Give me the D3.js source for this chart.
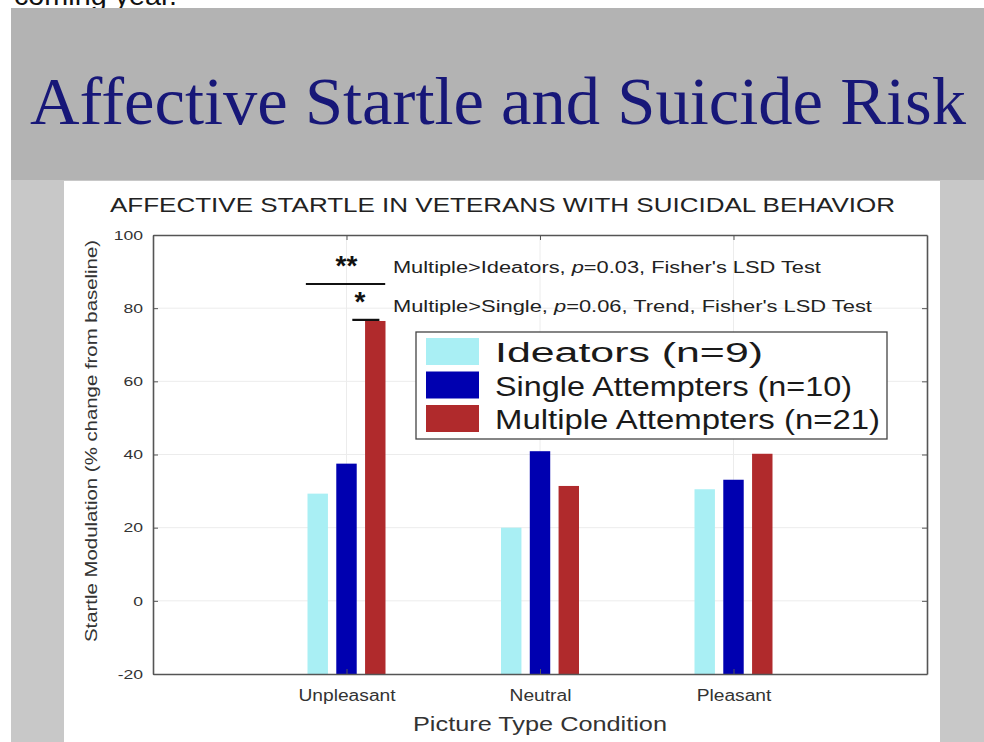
<!DOCTYPE html>
<html>
<head>
<meta charset="utf-8">
<script src="https://cdn.jsdelivr.net/npm/d3@7"></script>
<style>
  html, body { margin: 0; padding: 0; background: #fff; }
  svg { display: block; }
  text { font-family: "Liberation Sans", Arial, sans-serif; }
</style>
</head>
<body>
<svg id="chart" width="984" height="742"></svg>
<script>
// values
var categories = ['Unpleasant', 'Neutral', 'Pleasant'];
var seriesNames = ['Ideators (n=9)', 'Single Attempters (n=10)', 'Multiple Attempters (n=21)'];
var ideators = [29.3, 20.0, 30.5];
var singleAttempters = [37.5, 40.9, 33.1];
var multipleAttempters = [76.5, 31.4, 40.2];
var yTicks = [-20, 0, 20, 40, 60, 80, 100];
var seriesColors = ['#a9eff4', '#0000b0', '#b02a2c'];

// significance markers (x in category units, y in % change)
var sigLines = [
	{ x1: 0.79, x2: 1.20, y: 86.6 },
	{ x1: 1.03, x2: 1.17, y: 76.8 }
];
var sigStars = [
	{ x: 1.0, y: 89.0, text: '**' },
	{ x: 1.07, y: 79.2, text: '*' }
];
var sigNotes = [
	{ x: 1.24, y: 89.7, pre: 'Multiple>Ideators, ', post: '=0.03, Fisher\'s LSD Test', width: 428 },
	{ x: 1.24, y: 79.0, pre: 'Multiple>Single, ', post: '=0.06, Trend, Fisher\'s LSD Test', width: 479 }
];

var svg = d3.select('#chart');

function fit(sel, width) {
	sel.attr('textLength', width).attr('lengthAdjust', 'spacingAndGlyphs');
}
function stretch(sel, factor) {
	sel.each(function() {
		var w = this.getComputedTextLength();
		d3.select(this).attr('textLength', w * factor).attr('lengthAdjust', 'spacingAndGlyphs');
	});
}

// slide background (the line above is cut off in the source too)
svg.append('text')
	.attr('x', 14).attr('y', 5)
	.attr('font-size', 28)
	.attr('fill', '#111')
	.text('coming year.')
	.call(fit, 163);

svg.append('rect').attr('x', 11).attr('y', 180).attr('width', 973).attr('height', 562).attr('fill', '#c8c8c8');
svg.append('rect').attr('x', 11).attr('y', 8).attr('width', 973).attr('height', 172).attr('fill', '#b3b3b3');
svg.append('rect').attr('x', 64).attr('y', 181).attr('width', 876).attr('height', 561).attr('fill', '#fff');

svg.append('text')
	.attr('x', 30).attr('y', 124)
	.style('font-family', '"Liberation Serif", "Times New Roman", serif')
	.attr('font-size', 68)
	.attr('fill', '#171778')
	.text('Affective Startle and Suicide Risk')
	.call(fit, 936);

svg.append('text')
	.attr('x', 110).attr('y', 212)
	.attr('font-size', 21)
	.attr('fill', '#222')
	.text('AFFECTIVE STARTLE IN VETERANS WITH SUICIDAL BEHAVIOR')
	.call(fit, 785);

// plot area
var plot = { left: 153, right: 927, top: 235, bottom: 674 };

var x = d3.scaleLinear().domain([0, 4]).range([plot.left, plot.right]);
var y = d3.scaleLinear().domain([-20, 100]).range([plot.bottom, plot.top]);
var inner = d3.scaleBand().domain(d3.range(seriesNames.length)).range([-39, 39]).paddingInner(0.29);

var table = categories.map(function(c, i) {
	return { category: c, pos: i + 1, values: [ideators[i], singleAttempters[i], multipleAttempters[i]] };
});

// grid
var grid = svg.append('g').attr('stroke', '#ececec').attr('stroke-width', 1);
grid.selectAll('line.h')
	.data(yTicks.slice(1, -1))
	.enter().append('line')
	.attr('x1', plot.left).attr('x2', plot.right)
	.attr('y1', function(d) { return y(d); })
	.attr('y2', function(d) { return y(d); });
grid.selectAll('line.v')
	.data(table)
	.enter().append('line')
	.attr('y1', plot.top).attr('y2', plot.bottom)
	.attr('x1', function(d) { return x(d.pos); })
	.attr('x2', function(d) { return x(d.pos); });

// bars
var groups = svg.append('g').selectAll('g')
	.data(table)
	.enter().append('g')
	.attr('transform', function(d) { return 'translate(' + x(d.pos) + ',0)'; });

groups.selectAll('rect')
	.data(function(d) { return d.values; })
	.enter().append('rect')
	.attr('x', function(d, i) { return inner(i); })
	.attr('width', inner.bandwidth())
	.attr('y', function(d) { return y(d); })
	.attr('height', function(d) { return y(-20) - y(d); })
	.attr('fill', function(d, i) { return seriesColors[i]; });

// axes (MATLAB style box, ticks inside)
var axisColor = '#555';
var yLeft = d3.axisLeft(y).tickValues(yTicks).tickSizeInner(-5).tickSizeOuter(0).tickPadding(10)
	.tickFormat(function(d) { return String(d); });
var yRight = d3.axisRight(y).tickValues(yTicks).tickSizeInner(-5).tickSizeOuter(0).tickFormat('');
var xBottom = d3.axisBottom(x).tickValues(table.map(function(d) { return d.pos; }))
	.tickSizeInner(-5).tickSizeOuter(0).tickPadding(16)
	.tickFormat(function(d) { return categories[d - 1]; });
var xTop = d3.axisTop(x).tickValues(table.map(function(d) { return d.pos; }))
	.tickSizeInner(-5).tickSizeOuter(0).tickFormat('');

var gLeft = svg.append('g').attr('transform', 'translate(' + plot.left + ',0)').call(yLeft);
var gRight = svg.append('g').attr('transform', 'translate(' + plot.right + ',0)').call(yRight);
var gBottom = svg.append('g').attr('transform', 'translate(0,' + plot.bottom + ')').call(xBottom);
var gTop = svg.append('g').attr('transform', 'translate(0,' + plot.top + ')').call(xTop);

[gLeft, gRight, gBottom, gTop].forEach(function(g) {
	g.select('.domain').attr('stroke', axisColor).attr('stroke-width', 1.6);
	g.selectAll('.tick line').attr('stroke', axisColor).attr('stroke-width', 1);
});

gLeft.selectAll('.tick text')
	.attr('font-size', 13.5)
	.attr('fill', '#333')
	.call(stretch, 1.3);

gBottom.selectAll('.tick text')
	.attr('font-size', 16)
	.attr('fill', '#333')
	.call(stretch, 1.2);

// axis titles
svg.append('text')
	.attr('x', x(2)).attr('y', 731)
	.attr('text-anchor', 'middle')
	.attr('font-size', 20)
	.attr('fill', '#333')
	.text('Picture Type Condition')
	.call(fit, 254);

svg.append('text')
	.attr('transform', 'translate(97,441) rotate(-90)')
	.attr('text-anchor', 'middle')
	.attr('font-size', 17)
	.attr('fill', '#333')
	.text('Startle Modulation (% change from baseline)')
	.call(fit, 402);

// significance annotations
svg.append('g').selectAll('line')
	.data(sigLines)
	.enter().append('line')
	.attr('x1', function(d) { return x(d.x1); })
	.attr('x2', function(d) { return x(d.x2); })
	.attr('y1', function(d) { return y(d.y); })
	.attr('y2', function(d) { return y(d.y); })
	.attr('stroke', '#111')
	.attr('stroke-width', 2.2);

svg.append('g').selectAll('text')
	.data(sigStars)
	.enter().append('text')
	.attr('x', function(d) { return x(d.x); })
	.attr('y', function(d) { return y(d.y); })
	.attr('text-anchor', 'middle')
	.attr('font-size', 28)
	.attr('font-weight', 'bold')
	.attr('fill', '#111')
	.text(function(d) { return d.text; });

var notes = svg.append('g').selectAll('text')
	.data(sigNotes)
	.enter().append('text')
	.attr('x', function(d) { return x(d.x); })
	.attr('y', function(d) { return y(d.y); })
	.attr('font-size', 16)
	.attr('fill', '#222')
	.each(function(d) { d3.select(this).call(fit, d.width); });
notes.append('tspan').text(function(d) { return d.pre; });
notes.append('tspan').attr('font-style', 'italic').text('p');
notes.append('tspan').text(function(d) { return d.post; });

// legend
var legend = svg.append('g').attr('transform', 'translate(416,332)');
legend.append('rect')
	.attr('width', 471).attr('height', 107)
	.attr('fill', '#fff')
	.attr('stroke', '#444')
	.attr('stroke-width', 1.3);

var items = legend.selectAll('g.item')
	.data(seriesNames)
	.enter().append('g')
	.attr('transform', function(d, i) { return 'translate(10,' + (6 + i * 33.5) + ')'; });
items.append('rect')
	.attr('width', 53).attr('height', 27)
	.attr('fill', function(d, i) { return seriesColors[i]; });
var legendWidths = [268, 357, 385];
items.append('text')
	.attr('x', 69).attr('y', 24)
	.attr('font-size', 27)
	.attr('fill', '#1a1a1a')
	.text(function(d) { return d; })
	.each(function(d, i) { d3.select(this).call(fit, legendWidths[i]); });
</script>
</body>
</html>
